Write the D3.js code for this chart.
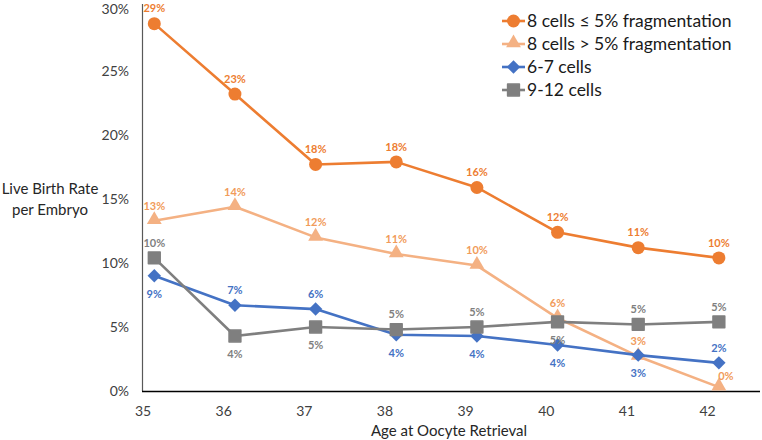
<!DOCTYPE html>
<html>
<head>
<meta charset="utf-8">
<script src="https://cdn.jsdelivr.net/npm/d3@7"></script>
<style>
  html, body { margin: 0; padding: 0; background: #fff; }
  #chart { width: 762px; height: 440px; }
  text { font-family: Lato, "Open Sans", sans-serif; }
</style>
</head>
<body>
<div id="chart"></div>
<script>
// Data
const ages = [35, 36, 37, 38, 39, 40, 41, 42]
const yTicks = [0, 0.05, 0.10, 0.15, 0.20, 0.25, 0.30]
const seriesNames = ["8 cells ≤ 5% fragmentation", "8 cells > 5% fragmentation", "6-7 cells", "9-12 cells"]
const fragLow = [0.287, 0.232, 0.177, 0.179, 0.159, 0.124, 0.112, 0.104]
const fragHigh = [0.133, 0.144, 0.120, 0.107, 0.098, 0.057, 0.027, 0.003]
const cells67 = [0.090, 0.067, 0.064, 0.044, 0.043, 0.036, 0.028, 0.022]
const cells912 = [0.104, 0.043, 0.050, 0.048, 0.050, 0.054, 0.052, 0.054]

// label placement per point: a = above, b = below, r = upper right
const placeLow = ["a", "a", "a", "a", "a", "a", "a", "a"]
const placeHigh = ["a", "a", "a", "a", "a", "a", "a", "r"]
const place67 = ["b", "a", "a", "b", "b", "b", "b", "a"]
const place912 = ["a", "b", "b", "a", "a", "b", "a", "a"]

const width = 762, height = 440
const svg = d3.select("#chart").append("svg")
  .attr("width", width).attr("height", height)

// plot frame
const x0 = 143, x1 = 760, yTop = 7, yBot = 391
const xScale = d3.scaleLinear().domain([35, 42.65]).range([x0, x1])
const yScale = d3.scaleLinear().domain([0, 0.30]).range([yBot, yTop])
// markers sit a little right of the age labels, as in the source chart
const POINT_SHIFT = 0.14

const series = [
  { name: seriesNames[0], values: fragLow, place: placeLow, color: "#ED7D31", label: "#ED7D31", shape: "circle" },
  { name: seriesNames[1], values: fragHigh, place: placeHigh, color: "#F4B183", label: "#F19B5A", shape: "triangle" },
  { name: seriesNames[2], values: cells67, place: place67, color: "#4472C4", label: "#4472C4", shape: "diamond" },
  { name: seriesNames[3], values: cells912, place: place912, color: "#7F7F7F", label: "#7F7F7F", shape: "square" }
]

function marker(sel, shape, color) {
  if (shape === "circle") {
    sel.append("circle").attr("r", 6.5).attr("fill", color)
  } else if (shape === "triangle") {
    sel.append("path").attr("d", d3.symbol(d3.symbolTriangle, 95)()).attr("fill", color)
      .attr("transform", "translate(0,-1)")
  } else if (shape === "diamond") {
    sel.append("path").attr("d", d3.symbol(d3.symbolSquare, 90)()).attr("fill", color)
      .attr("transform", "rotate(45)")
  } else {
    sel.append("path").attr("d", d3.symbol(d3.symbolSquare, 140)()).attr("fill", color)
      .attr("stroke", color).attr("stroke-width", 1.5).attr("stroke-linejoin", "round")
  }
}

// axes lines
svg.append("line")
  .attr("x1", x0 - 0.5).attr("x2", x0 - 0.5).attr("y1", 4).attr("y2", yBot)
  .attr("stroke", "#595959").attr("stroke-width", 1.2)
svg.append("line")
  .attr("x1", x0 - 1).attr("x2", x1).attr("y1", yBot + 0.5).attr("y2", yBot + 0.5)
  .attr("stroke", "#000").attr("stroke-width", 1.3)

// y tick labels
svg.append("g").selectAll("text")
  .data(yTicks).enter().append("text")
  .attr("x", 129)
  .attr("y", d => Math.max(yScale(d), 9))
  .attr("dy", "0.35em")
  .attr("text-anchor", "end")
  .attr("font-size", "14px")
  .attr("fill", "#404040")
  .text(d => d3.format(".0%")(d))

// x tick labels
svg.append("g").selectAll("text")
  .data(ages).enter().append("text")
  .attr("x", d => xScale(d))
  .attr("y", 411)
  .attr("dy", "0.35em")
  .attr("text-anchor", "middle")
  .attr("font-size", "14px")
  .attr("fill", "#404040")
  .text(d => d)

// axis titles
svg.append("text")
  .attr("x", 449).attr("y", 431).attr("dy", "0.35em")
  .attr("text-anchor", "middle").attr("font-size", "15px").attr("fill", "#262626")
  .text("Age at Oocyte Retrieval")
const yTitle = svg.append("text")
  .attr("text-anchor", "middle").attr("font-size", "15px").attr("fill", "#262626")
yTitle.append("tspan").attr("x", 50).attr("y", 194).text("Live Birth Rate")
yTitle.append("tspan").attr("x", 50).attr("y", 215).text("per Embryo")

// series
const line = d3.line()
  .x((d, i) => xScale(ages[i] + POINT_SHIFT))
  .y(d => yScale(d))

series.forEach(s => {
  const g = svg.append("g")
  g.append("path")
    .datum(s.values)
    .attr("d", line)
    .attr("fill", "none")
    .attr("stroke", s.color)
    .attr("stroke-width", 2.6)
    .attr("stroke-linejoin", "round")

  g.selectAll("g.pt")
    .data(s.values).enter().append("g")
    .attr("class", "pt")
    .attr("transform", (d, i) => `translate(${xScale(ages[i] + POINT_SHIFT)},${yScale(d)})`)
    .each(function () { marker(d3.select(this), s.shape, s.color) })
})

// data labels on top
series.forEach(s => {
  svg.append("g").selectAll("text")
    .data(s.values).enter().append("text")
    .attr("x", (d, i) => xScale(ages[i] + POINT_SHIFT) + (s.place[i] === "r" ? 7 : 0))
    .attr("y", (d, i) => {
      const p = s.place[i]
      const off = p === "a" ? -15 : p === "b" ? 18 : -11
      return yScale(d) + off
    })
    .attr("dy", "0.35em")
    .attr("text-anchor", "middle")
    .attr("font-size", "11px")
    .attr("font-weight", "700")
    .attr("fill", s.label)
    .text(d => Math.round(d * 100) + "%")
})

// legend
const legend = svg.append("g")
series.forEach((s, i) => {
  const row = legend.append("g").attr("transform", `translate(502,${21 + i * 23})`)
  row.append("line").attr("x1", 0).attr("x2", 23).attr("y1", 0).attr("y2", 0)
    .attr("stroke", s.color).attr("stroke-width", 2.6)
  const m = row.append("g").attr("transform", "translate(11.5,0)")
  marker(m, s.shape, s.color)
  row.append("text")
    .attr("x", 25).attr("y", 0).attr("dy", "0.35em")
    .attr("font-size", "17.5px").attr("fill", "#1a1a1a")
    .text(s.name)
})
</script>
</body>
</html>
